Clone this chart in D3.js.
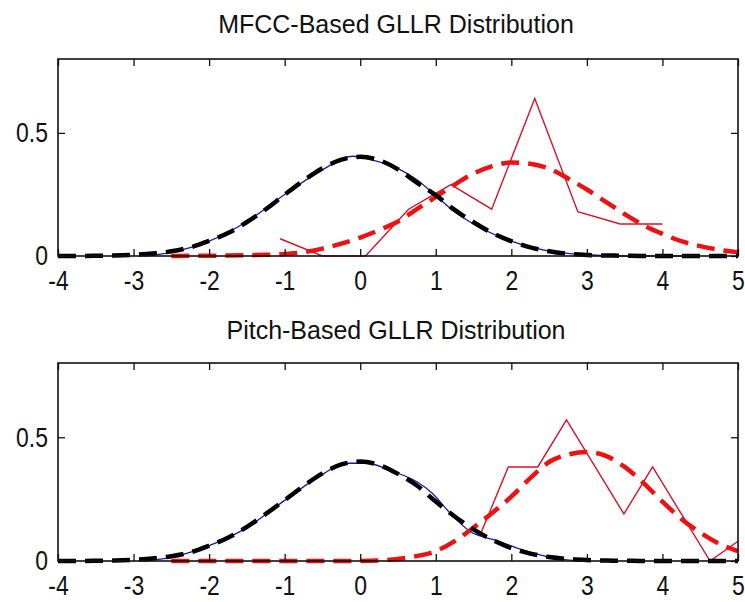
<!DOCTYPE html>
<html>
<head>
<meta charset="utf-8">
<script src="https://cdnjs.cloudflare.com/ajax/libs/d3/7.8.5/d3.min.js"></script>
<style>
  html, body { margin: 0; padding: 0; background: #fff; }
  svg { display: block; }
  text { font-family: "Liberation Sans", Arial, sans-serif; fill: #111; }
</style>
</head>
<body>
<svg id="chart" width="745" height="602"></svg>
<script>
// ---- data ----
const xTicks = [-4, -3, -2, -1, 0, 1, 2, 3, 4, 5];
const xTickLabels = ['-4', '-3', '-2', '-1', '0', '1', '2', '3', '4', '5'];
const yTicks = [0, 0.5];
const yTickLabels = ['0', '0.5'];

// x grid shared by the fitted (dashed) curves
const fitX = [-4, -3.75, -3.5, -3.25, -3, -2.75, -2.5, -2.25, -2, -1.75, -1.5, -1.25, -1, -0.75, -0.5, -0.25,
  0, 0.25, 0.5, 0.75, 1, 1.25, 1.5, 1.75, 2, 2.25, 2.5, 2.75, 3, 3.25, 3.5, 3.75, 4, 4.25, 4.5, 4.75, 5];

// MFCC panel
const mfccBlackFit = [0, 0, 0.001, 0.002, 0.005, 0.01, 0.019, 0.035, 0.061, 0.093, 0.138, 0.19, 0.249, 0.306, 0.356, 0.391,
  0.403, 0.389, 0.352, 0.298, 0.247, 0.187, 0.137, 0.093, 0.06, 0.035, 0.019, 0.009, 0.004, 0.002, 0.001, 0, 0, 0, 0, 0, 0];
const mfccRedFit = [null, null, null, null, null, null, 0, 0.001, 0.001, 0.002, 0.003, 0.005, 0.008, 0.016, 0.03, 0.05,
  0.075, 0.105, 0.14, 0.19, 0.24, 0.29, 0.335, 0.365, 0.38, 0.375, 0.355, 0.315, 0.27, 0.22, 0.17, 0.125, 0.09, 0.06, 0.04, 0.025, 0.015];
const mfccBlueX = [-2.85, -2.5, -2, -1.5, -1, -0.5, -0.1, 0.15, 0.5, 0.75, 1, 1.25, 1.5, 2, 2.5, 3, 3.5, 4.5];
const mfccBlueY = [0, 0.015, 0.06, 0.14, 0.25, 0.35, 0.405, 0.39, 0.355, 0.31, 0.245, 0.18, 0.13, 0.06, 0.02, 0.005, 0, 0];
const mfccRedX = [-1.06, -0.5, 0.07, 0.64, 1.2, 1.74, 2.31, 2.88, 3.44, 4.0];
const mfccRedY = [0.07, 0, 0, 0.19, 0.29, 0.19, 0.64, 0.18, 0.13, 0.13];

// Pitch panel
const pitchBlackFit = [0, 0, 0.001, 0.002, 0.005, 0.01, 0.019, 0.035, 0.062, 0.094, 0.138, 0.19, 0.246, 0.303, 0.354, 0.39,
  0.402, 0.388, 0.352, 0.305, 0.24, 0.18, 0.128, 0.085, 0.052, 0.03, 0.016, 0.008, 0.004, 0.002, 0.001, 0, 0, 0, 0, 0, 0];
const pitchRedFit = [null, null, null, null, null, null, 0, 0, 0, 0, 0, 0, 0, 0, 0, 0,
  0, 0.002, 0.008, 0.02, 0.04, 0.08, 0.135, 0.195, 0.26, 0.335, 0.4, 0.43, 0.44, 0.425, 0.38, 0.315, 0.24, 0.17, 0.115, 0.07, 0.04];
const pitchBlueX = [-2.85, -2.5, -2, -1.5, -1, -0.5, -0.2, 0.1, 0.4, 0.75, 0.95, 1.2, 1.45, 1.8, 2.2, 2.6, 3.0];
const pitchBlueY = [0, 0.015, 0.062, 0.135, 0.245, 0.35, 0.395, 0.395, 0.365, 0.32, 0.275, 0.19, 0.12, 0.083, 0.04, 0.01, 0];
const pitchRedX = [1.58, 1.96, 2.35, 2.73, 3.11, 3.49, 3.87, 4.25, 4.63, 5.0];
const pitchRedY = [0.1, 0.38, 0.38, 0.57, 0.38, 0.19, 0.38, 0.19, 0, 0.08];

const panels = [
  { title: 'MFCC-Based GLLR Distribution', top: 59, bottom: 256, titleY: 33,
    blackFit: mfccBlackFit, redFit: mfccRedFit, blueX: mfccBlueX, blueY: mfccBlueY, redX: mfccRedX, redY: mfccRedY },
  { title: 'Pitch-Based GLLR Distribution', top: 363, bottom: 561, titleY: 339,
    blackFit: pitchBlackFit, redFit: pitchRedFit, blueX: pitchBlueX, blueY: pitchBlueY, redX: pitchRedX, redY: pitchRedY }
];

const left = 58, right = 738;
const squeeze = 0.82; // tick labels are narrow in the original
const svg = d3.select('#chart');

const x = d3.scaleLinear().domain([-4, 5]).range([left, right]);

panels.forEach(p => {
  const y = d3.scaleLinear().domain([0, 0.8]).range([p.bottom, p.top]);
  const g = svg.append('g');

  const fitLine = d3.line()
    .defined(d => d[1] != null)
    .x(d => x(d[0])).y(d => y(d[1]))
    .curve(d3.curveMonotoneX);
  const thinLine = d3.line().x(d => x(d[0])).y(d => y(d[1]));

  // empirical (thin) curves first, fitted dashed curves on top
  g.append('path')
    .datum(p.blueX.map((v, i) => [v, p.blueY[i]]))
    .attr('d', d3.line().x(d => x(d[0])).y(d => y(d[1])).curve(d3.curveMonotoneX))
    .attr('fill', 'none').attr('stroke', '#1a1aa8').attr('stroke-width', 1.3);

  g.append('path')
    .datum(p.redX.map((v, i) => [v, p.redY[i]]))
    .attr('d', thinLine)
    .attr('fill', 'none').attr('stroke', '#d4142a').attr('stroke-width', 1.4);

  g.append('path')
    .datum(fitX.map((v, i) => [v, p.redFit[i]]))
    .attr('d', fitLine)
    .attr('fill', 'none').attr('stroke', '#ee1111').attr('stroke-width', 4.5)
    .attr('stroke-dasharray', '18,9');

  g.append('path')
    .datum(fitX.map((v, i) => [v, p.blackFit[i]]))
    .attr('d', fitLine)
    .attr('fill', 'none').attr('stroke', '#000').attr('stroke-width', 4.5)
    .attr('stroke-dasharray', '18,9');

  // axes (ticks pointing inward, mirrored on top/right)
  const xb = g.append('g').attr('transform', `translate(0,${p.bottom})`)
    .call(d3.axisBottom(x).tickValues(xTicks).tickSize(-7).tickPadding(14)
      .tickFormat((d, i) => xTickLabels[i]));
  const xt = g.append('g').attr('transform', `translate(0,${p.top})`)
    .call(d3.axisTop(x).tickValues(xTicks).tickSize(-7).tickFormat(''));
  const yl = g.append('g').attr('transform', `translate(${left},0)`)
    .call(d3.axisLeft(y).tickValues(yTicks).tickSize(-7).tickPadding(10)
      .tickFormat((d, i) => yTickLabels[i]));
  const yr = g.append('g').attr('transform', `translate(${right},0)`)
    .call(d3.axisRight(y).tickValues(yTicks).tickSize(-7).tickFormat(''));

  [xb, xt, yl, yr].forEach(a => {
    a.select('.domain').remove();
    a.selectAll('.tick line').attr('stroke', '#111').attr('stroke-width', 1.3);
    a.selectAll('.tick text')
      .style('font-family', '"Liberation Sans", Arial, sans-serif')
      .style('font-size', '28px').attr('fill', '#111')
      .attr('transform', `scale(${squeeze},1)`);
  });
  yl.selectAll('.tick text').attr('x', -10 / squeeze);

  g.append('rect')
    .attr('x', left).attr('y', p.top)
    .attr('width', right - left).attr('height', p.bottom - p.top)
    .attr('fill', 'none').attr('stroke', '#111').attr('stroke-width', 1.6);

  svg.append('text')
    .attr('x', (left + right) / 2 - 2).attr('y', p.titleY)
    .attr('text-anchor', 'middle')
    .style('font-size', '25px')
    .text(p.title);
});
</script>
</body>
</html>
